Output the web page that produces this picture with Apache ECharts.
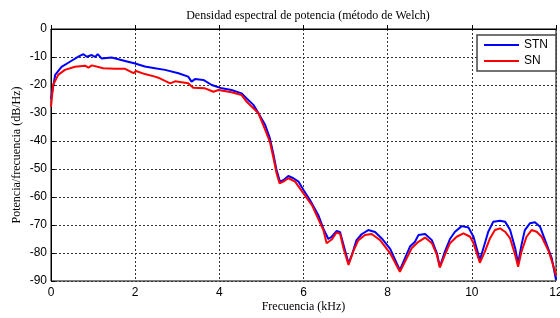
<!DOCTYPE html>
<html>
<head>
<meta charset="utf-8">
<script src="https://cdn.jsdelivr.net/npm/echarts@6/dist/echarts.min.js"></script>
<style>html,body{margin:0;padding:0;background:#fff;}#c{width:560px;height:318px;}</style>
</head>
<body>
<div id="c"></div>
<script>
// STN (blue) series: frequency in kHz and PSD in dB/Hz
const stnFreq = [0.00,0.10,0.25,0.45,0.65,0.77,0.85,0.97,1.05,1.11,1.20,1.44,1.76,2.00,2.23,2.47,2.71,3.03,3.26,3.34,3.42,3.62,3.82,4.06,4.29,4.53,4.65,4.81,4.93,5.09,5.20,5.28,5.36,5.44,5.52,5.64,5.76,5.88,6.00,6.15,6.35,6.47,6.59,6.67,6.79,6.87,6.95,7.07,7.15,7.26,7.38,7.54,7.70,7.86,8.06,8.29,8.41,8.53,8.65,8.73,8.89,9.05,9.17,9.24,9.36,9.48,9.60,9.76,9.92,10.04,10.19,10.31,10.39,10.51,10.67,10.79,10.91,11.03,11.10,11.18,11.26,11.38,11.50,11.62,11.74,11.90,12.00];
const stnDb = [-25.0,-16.4,-13.5,-11.7,-9.9,-9.0,-9.9,-9.3,-10.0,-9.0,-10.5,-10.2,-11.4,-12.3,-13.4,-14.0,-14.6,-15.8,-17.0,-18.8,-17.9,-18.2,-20.0,-21.2,-21.8,-23.0,-24.8,-27.1,-30.1,-34.3,-39.0,-44.4,-50.4,-54.5,-54.0,-52.5,-53.3,-54.5,-57.5,-61.0,-66.4,-71.2,-75.0,-74.2,-72.1,-72.6,-77.1,-83.7,-80.7,-75.4,-73.3,-71.8,-72.5,-74.8,-78.5,-86.1,-81.9,-77.7,-76.0,-73.6,-73.2,-75.4,-80.1,-84.9,-79.5,-75.0,-72.4,-70.4,-70.9,-74.2,-82.5,-76.5,-72.4,-68.8,-68.5,-68.8,-71.8,-78.3,-83.7,-77.1,-71.8,-69.4,-69.0,-70.6,-75.4,-81.9,-89.6];
// SN (red) series
const snFreq = [0.00,0.05,0.17,0.33,0.57,0.81,0.89,0.97,1.24,1.52,1.76,1.96,2.02,2.23,2.47,2.55,2.83,2.95,3.26,3.38,3.66,3.86,3.98,4.29,4.53,4.65,4.81,4.93,5.09,5.20,5.28,5.36,5.43,5.52,5.64,5.80,6.00,6.20,6.47,6.55,6.67,6.79,6.87,6.95,7.07,7.18,7.30,7.46,7.62,7.82,8.06,8.29,8.41,8.57,8.73,8.89,9.05,9.17,9.24,9.36,9.48,9.64,9.80,9.96,10.04,10.19,10.31,10.43,10.55,10.67,10.79,10.91,11.03,11.10,11.18,11.30,11.42,11.54,11.66,11.83,11.98,12.00];
const snDb = [-27.8,-20.0,-16.4,-14.6,-13.5,-13.1,-13.8,-13.0,-14.0,-14.2,-14.2,-15.8,-15.0,-16.1,-17.0,-17.4,-19.4,-18.7,-19.4,-21.0,-21.2,-22.4,-21.8,-22.6,-23.6,-26.0,-28.3,-30.1,-36.0,-40.2,-45.6,-51.5,-55.1,-54.5,-53.3,-54.5,-58.7,-62.9,-71.7,-76.5,-75.2,-72.6,-73.2,-78.3,-84.3,-79.5,-75.5,-73.6,-73.2,-75.4,-80.1,-86.7,-83.1,-78.3,-76.0,-74.5,-76.5,-80.7,-85.2,-80.7,-76.5,-74.2,-73.0,-74.2,-76.5,-83.5,-79.5,-74.8,-71.8,-71.2,-72.4,-74.8,-80.7,-84.9,-79.5,-74.2,-71.8,-72.4,-74.2,-79.5,-86.7,-88.0];
const seriesNames = ['STN','SN'];
const xTicks = [0,2,4,6,8,10,12];
const yTicks = [0,-10,-20,-30,-40,-50,-60,-70,-80,-90];
const titleText = 'Densidad espectral de potencia (método de Welch)';
const xName = 'Frecuencia (kHz)';
const yName = 'Potencia/frecuencia (dB/Hz)';

const pairs = (xs, ys) => xs.map((x, i) => [x, ys[i]]);
const chart = echarts.init(document.getElementById('c'), null, {renderer: 'canvas'});
const sans = 'Liberation Sans';
const serif = 'Liberation Serif';
chart.setOption({
  animation: false,
  backgroundColor: '#fff',
  title: {
    text: titleText, left: 303, top: 5, textAlign: 'center',
    textStyle: {fontFamily: serif, fontSize: 12, fontWeight: 'normal', color: '#000'}
  },
  legend: {
    orient: 'vertical', right: 4, top: 35,
    data: seriesNames,
    icon: 'rect', itemWidth: 35, itemHeight: 2, itemGap: 4,
    padding: [4, 8, 4, 7],
    backgroundColor: '#fff', borderColor: '#444', borderWidth: 1.5,
    textStyle: {fontFamily: sans, fontSize: 12, color: '#000'}
  },
  grid: {left: 51, right: 4, top: 29, bottom: 37, show: true, borderColor: '#000', borderWidth: 1,
    backgroundColor: 'transparent', containLabel: false, outerBoundsMode: 'none'},
  xAxis: {
    type: 'value', min: 0, max: 12, interval: 2,
    name: xName, nameLocation: 'middle', nameGap: 20, nameMoveOverlap: false,
    nameTextStyle: {fontFamily: serif, fontSize: 12, color: '#000'},
    axisLine: {show: true, lineStyle: {color: '#000', width: 1}},
    axisTick: {show: true, inside: true, length: 4, lineStyle: {color: '#000'}},
    axisLabel: {fontFamily: sans, fontSize: 12, color: '#000', margin: 6,
      formatter: v => xTicks.includes(v) ? String(v) : ''},
    splitLine: {show: true, lineStyle: {color: '#333', type: [2, 2], width: 1}}
  },
  yAxis: {
    type: 'value', min: -90, max: 0, interval: 10,
    name: yName, nameLocation: 'middle', nameGap: 28, nameRotate: 90, nameMoveOverlap: false,
    nameTextStyle: {fontFamily: serif, fontSize: 12, color: '#000'},
    axisLine: {show: true, lineStyle: {color: '#000', width: 1}},
    axisTick: {show: true, inside: true, length: 4, lineStyle: {color: '#000'}},
    axisLabel: {fontFamily: sans, fontSize: 12, color: '#000', margin: 4,
      formatter: v => yTicks.includes(v) ? String(v) : ''},
    splitLine: {show: true, lineStyle: {color: '#333', type: [2, 2], width: 1}}
  },
  series: [
    {name: seriesNames[0], type: 'line', data: pairs(stnFreq, stnDb), showSymbol: false, symbol: 'none',
     lineStyle: {color: '#0000ff', width: 2}, itemStyle: {color: '#0000ff'}},
    {name: seriesNames[1], type: 'line', data: pairs(snFreq, snDb), showSymbol: false, symbol: 'none',
     lineStyle: {color: '#ff0000', width: 2}, itemStyle: {color: '#ff0000'}}
  ]
});
</script>
</body>
</html>
